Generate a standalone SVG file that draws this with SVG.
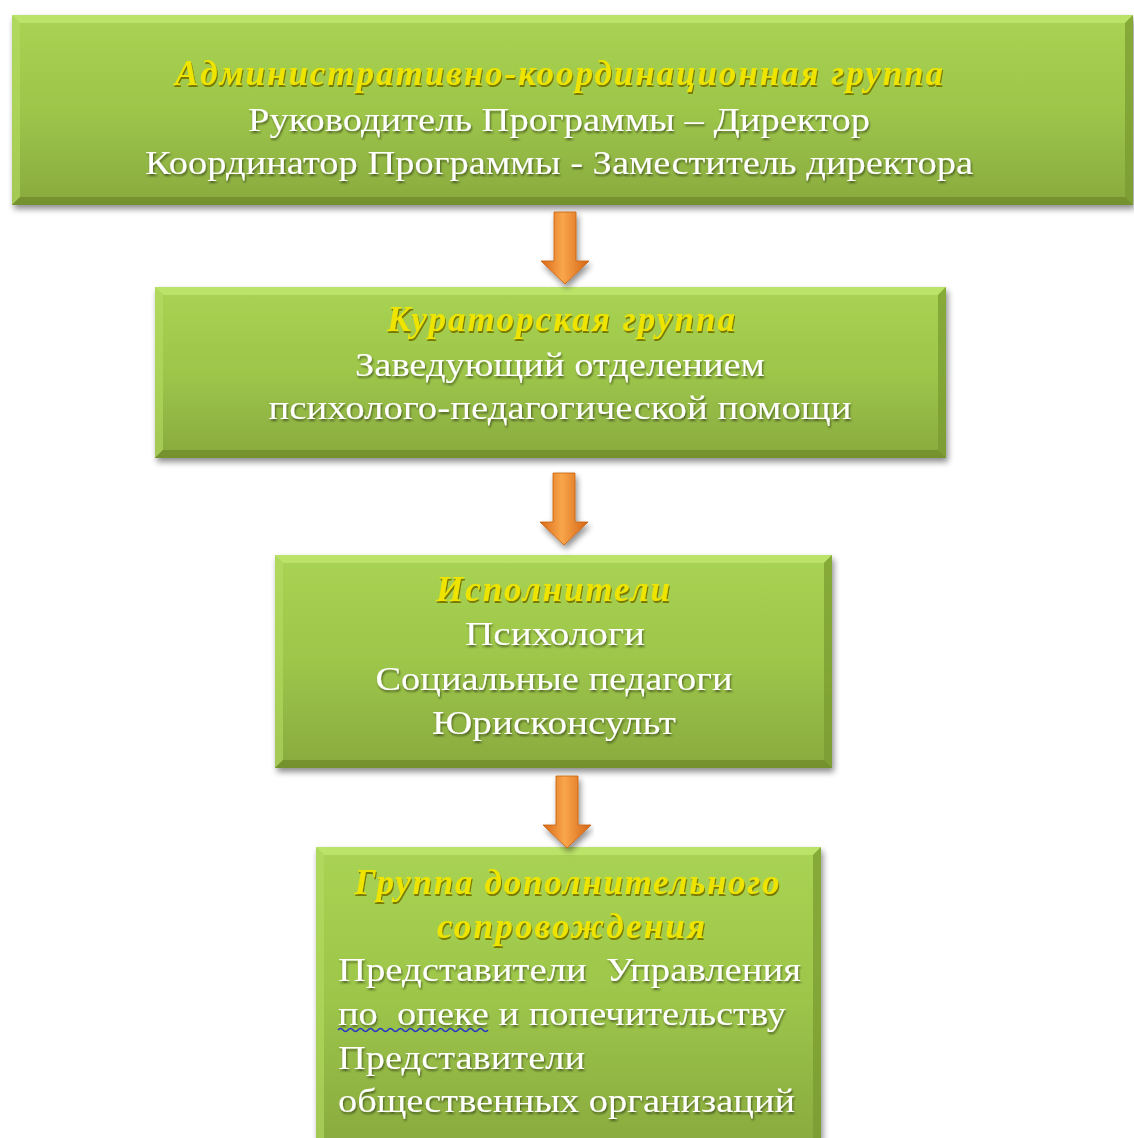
<svg xmlns="http://www.w3.org/2000/svg" width="1134" height="1138" viewBox="0 0 1134 1138">
<defs>
<linearGradient id="gFill" x1="0" y1="0" x2="0" y2="1">
<stop offset="0" stop-color="#a9d353"/>
<stop offset="0.5" stop-color="#9dc64a"/>
<stop offset="1" stop-color="#89aa3f"/>
</linearGradient>
<linearGradient id="gArrow" x1="0" y1="0" x2="1" y2="0">
<stop offset="0" stop-color="#d9681a"/>
<stop offset="0.45" stop-color="#f9a64a"/>
<stop offset="1" stop-color="#d46416"/>
</linearGradient>
<filter id="shadow" x="-5%" y="-10%" width="110%" height="130%">
<feGaussianBlur in="SourceAlpha" stdDeviation="3"/>
<feOffset dx="2" dy="4" result="b"/>
<feComponentTransfer><feFuncA type="linear" slope="0.45"/></feComponentTransfer>
<feMerge><feMergeNode/><feMergeNode in="SourceGraphic"/></feMerge>
</filter>
<filter id="tshadow" x="-5%" y="-20%" width="110%" height="140%">
<feGaussianBlur in="SourceAlpha" stdDeviation="1.2"/>
<feOffset dx="1" dy="1.5" result="b"/>
<feComponentTransfer><feFuncA type="linear" slope="0.5"/></feComponentTransfer>
<feMerge><feMergeNode/><feMergeNode in="SourceGraphic"/></feMerge>
</filter>
<filter id="yglow" x="-5%" y="-20%" width="110%" height="140%">
<feMorphology in="SourceAlpha" operator="dilate" radius="0.8"/>
<feGaussianBlur stdDeviation="1"/>
<feComponentTransfer><feFuncA type="linear" slope="0.6"/></feComponentTransfer>
<feFlood flood-color="#7a7a00"/>
<feComposite operator="in" in2="SourceAlpha"/>
<feOffset dx="1" dy="1.5"/>
<feMerge><feMergeNode/><feMergeNode in="SourceGraphic"/></feMerge>
</filter>
</defs>
<style>
.box{fill:url(#gFill);}
.hi{fill:#c3e870;opacity:0.75;}
.lf{fill:#b5dc62;opacity:0.6;}
.dk{fill:#6c8a2a;opacity:0.75;}
.rt{fill:#78982f;opacity:0.7;}
.t{font-family:"Liberation Serif","Times New Roman",serif;font-size:34px;fill:#ffffff;}
.h{font-family:"Liberation Serif","Times New Roman",serif;font-size:35px;font-style:italic;font-weight:bold;fill:#eee400;}
.arrow{fill:url(#gArrow);stroke:#c8600f;stroke-width:0.8;}
</style>
<rect width="1134" height="1138" fill="#ffffff"/>

<g id="node-admin" filter="url(#shadow)">
<rect class="box" x="12" y="15" width="1121" height="190"/>
<polygon class="hi" points="12,15 1133,15 1125,23 20,23"/>
<polygon class="lf" points="12,15 20,23 20,197 12,205"/>
<polygon class="rt" points="1133,15 1133,205 1125,197 1125,23"/>
<polygon class="dk" points="12,205 20,197 1125,197 1133,205"/>
</g>
<g id="node-admin-text">
<text class="h" x="559" y="85" text-anchor="middle" textLength="768" lengthAdjust="spacing" filter="url(#yglow)">Административно-координационная группа</text>
<text class="t" x="559" y="131" text-anchor="middle" textLength="622" lengthAdjust="spacingAndGlyphs" filter="url(#tshadow)">Руководитель Программы – Директор</text>
<text class="t" x="559" y="174" text-anchor="middle" textLength="828" lengthAdjust="spacingAndGlyphs" filter="url(#tshadow)">Координатор Программы - Заместитель директора</text>
</g>

<g id="node-curator" filter="url(#shadow)">
<rect class="box" x="155" y="287" width="791" height="171"/>
<polygon class="hi" points="155,287 946,287 938,295 163,295"/>
<polygon class="lf" points="155,287 163,295 163,450 155,458"/>
<polygon class="rt" points="946,287 946,458 938,450 938,295"/>
<polygon class="dk" points="155,458 163,450 938,450 946,458"/>
</g>
<g id="node-curator-text">
<text class="h" x="561" y="331" text-anchor="middle" textLength="348" lengthAdjust="spacing" filter="url(#yglow)">Кураторская группа</text>
<text class="t" x="560" y="376" text-anchor="middle" textLength="410" lengthAdjust="spacingAndGlyphs" filter="url(#tshadow)">Заведующий отделением</text>
<text class="t" x="560" y="419" text-anchor="middle" textLength="583" lengthAdjust="spacingAndGlyphs" filter="url(#tshadow)">психолого-педагогической помощи</text>
</g>

<g id="node-exec" filter="url(#shadow)">
<rect class="box" x="275" y="555" width="557" height="213"/>
<polygon class="hi" points="275,555 832,555 824,563 283,563"/>
<polygon class="lf" points="275,555 283,563 283,760 275,768"/>
<polygon class="rt" points="832,555 832,768 824,760 824,563"/>
<polygon class="dk" points="275,768 283,760 824,760 832,768"/>
</g>
<g id="node-exec-text">
<text class="h" x="553" y="601" text-anchor="middle" textLength="234" lengthAdjust="spacing" filter="url(#yglow)">Исполнители</text>
<text class="t" x="555" y="645" text-anchor="middle" textLength="180" lengthAdjust="spacingAndGlyphs" filter="url(#tshadow)">Психологи</text>
<text class="t" x="554" y="690" text-anchor="middle" textLength="357" lengthAdjust="spacingAndGlyphs" filter="url(#tshadow)">Социальные педагоги</text>
<text class="t" x="554" y="734" text-anchor="middle" textLength="244" lengthAdjust="spacingAndGlyphs" filter="url(#tshadow)">Юрисконсульт</text>
</g>

<g id="node-support" filter="url(#shadow)">
<rect class="box" x="316" y="847" width="505" height="300"/>
<polygon class="hi" points="316,847 821,847 813,855 324,855"/>
<polygon class="lf" points="316,847 324,855 324,1147 316,1147"/>
<polygon class="rt" points="821,847 821,1147 813,1147 813,855"/>
</g>
<g id="node-support-text">
<text class="h" x="567" y="894" text-anchor="middle" textLength="425" lengthAdjust="spacing" filter="url(#yglow)">Группа дополнительного</text>
<text class="h" x="571" y="938" text-anchor="middle" textLength="268" lengthAdjust="spacing" filter="url(#yglow)">сопровождения</text>
<text class="t" x="338" y="981" textLength="463" lengthAdjust="spacingAndGlyphs" filter="url(#tshadow)" xml:space="preserve">Представители  Управления</text>
<text class="t" x="338" y="1025" textLength="448" lengthAdjust="spacingAndGlyphs" filter="url(#tshadow)" xml:space="preserve">по  опеке и попечительству</text>
<text class="t" x="338" y="1069" textLength="247" lengthAdjust="spacingAndGlyphs" filter="url(#tshadow)">Представители</text>
<text class="t" x="338" y="1112" textLength="457" lengthAdjust="spacingAndGlyphs" filter="url(#tshadow)">общественных организаций</text>
<path d="M338,1030 q2.5,-3 5,0 t5,0 t5,0 t5,0 t5,0 t5,0 t5,0 t5,0 t5,0 t5,0 t5,0 t5,0 t5,0 t5,0 t5,0 t5,0 t5,0 t5,0 t5,0 t5,0 t5,0 t5,0 t5,0 t5,0 t5,0 t5,0 t5,0 t5,0 t5,0 t5,0" fill="none" stroke="#2233cc" stroke-width="1.5"/>
</g>

<g id="connectors" filter="url(#shadow)">
<polygon class="arrow" points="554,212 576,212 576,261 589,261 565,284 541,261 554,261"/>
<polygon class="arrow" points="553,473 575,473 575,522 588,522 564,545 540,522 553,522"/>
<polygon class="arrow" points="556,776 578,776 578,825 591,825 567,848 543,825 556,825"/>
</g>
</svg>
